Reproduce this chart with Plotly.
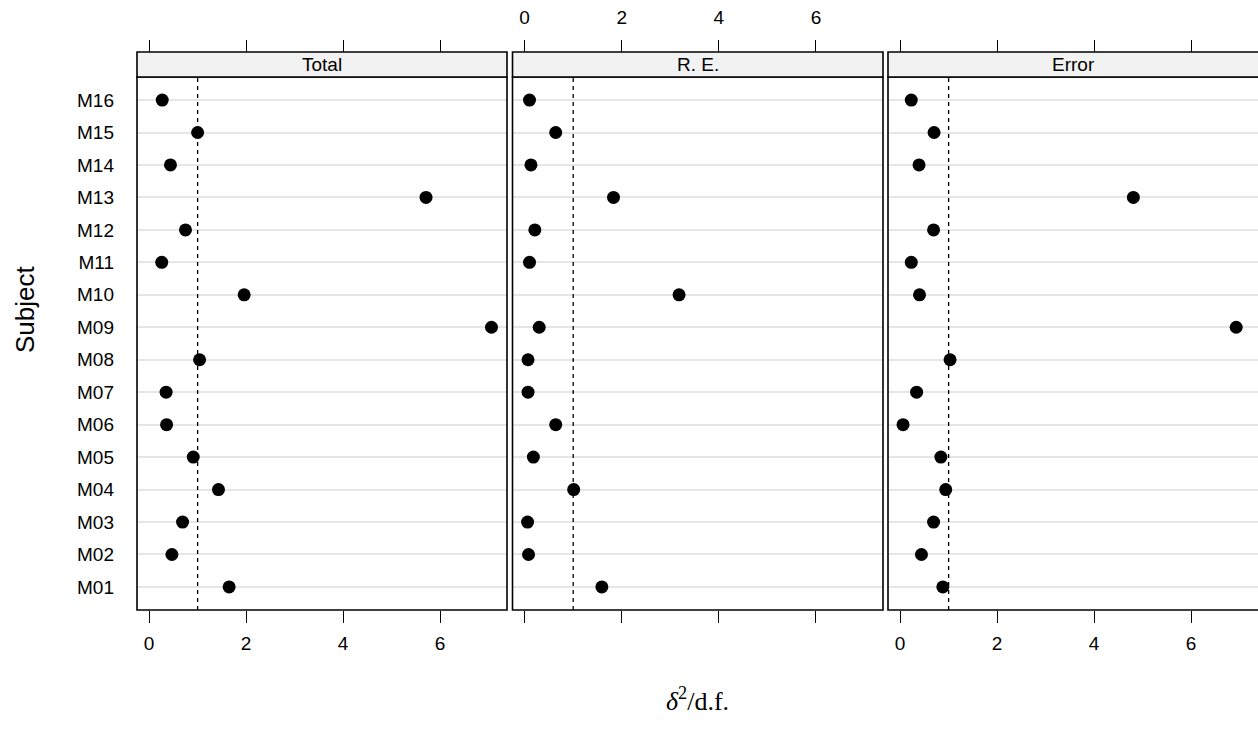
import plotly.graph_objects as go

subjects = ["M01", "M02", "M03", "M04", "M05", "M06", "M07", "M08",
            "M09", "M10", "M11", "M12", "M13", "M14", "M15", "M16"]
total = [1.65, 0.47, 0.69, 1.43, 0.91, 0.36, 0.35, 1.04,
         7.06, 1.96, 0.26, 0.75, 5.71, 0.44, 1.00, 0.27]
re_vals = [1.59, 0.08, 0.06, 1.01, 0.18, 0.64, 0.07, 0.07,
           0.30, 3.18, 0.10, 0.21, 1.83, 0.13, 0.64, 0.10]
error = [0.88, 0.44, 0.69, 0.94, 0.84, 0.06, 0.34, 1.03,
         6.93, 0.40, 0.23, 0.69, 4.81, 0.39, 0.70, 0.23]
panels = ["Total", "R. E.", "Error"]
ticks = [0, 2, 4, 6]
ref_value = 1

W, H = 1258, 742
FONT = "Liberation Sans, Arial, Helvetica, sans-serif"
FS = 19

# panel geometry (pixels)
px_x = [(137, 507), (512.5, 883), (888, 1258)]
py_top, py_bot = 77, 610
strip_top = 52
xr = [-0.25, 7.38]

fig = go.Figure()
series = [total, re_vals, error]
ydom = [1 - py_bot / H, 1 - py_top / H]
strip_y = [1 - py_top / H, 1 - strip_top / H]

for i, (vals, name) in enumerate(zip(series, panels)):
    n = "" if i == 0 else str(i + 1)
    fig.add_trace(go.Scatter(
        x=vals, y=subjects, mode="markers",
        marker=dict(color="black", size=13, line=dict(width=0)),
        xaxis="x" + n, yaxis="y" + n, showlegend=False,
        hoverinfo="x+y"))
    dom = [px_x[i][0] / W, min(px_x[i][1] / W, 1.0)]
    fig.layout["xaxis" + n] = dict(
        domain=dom, range=xr, anchor="y" + n,
        tickvals=ticks, ticktext=[str(t) for t in ticks],
        ticks="outside", ticklen=12, tickwidth=1.2, tickcolor="black",
        showticklabels=(i != 1), showgrid=False, zeroline=False,
        showline=False, tickfont=dict(family=FONT, size=FS, color="black"),
        ticklabelstandoff=4)
    fig.layout["yaxis" + n] = dict(
        domain=ydom, anchor="x" + n, type="category",
        categoryorder="array", categoryarray=subjects,
        range=[-0.71, 15.71], showgrid=True, gridcolor="#e6e6e6",
        gridwidth=2, zeroline=False, showline=False, ticks="",
        showticklabels=(i == 0), ticklabelstandoff=22,
        tickfont=dict(family=FONT, size=FS, color="black"))
    # top axis (above strip)
    fig.layout["xaxis" + str(i + 4)] = dict(
        overlaying="x" + n, side="top", anchor="free",
        position=strip_y[1], range=xr, tickvals=ticks,
        ticktext=[str(t) for t in ticks],
        ticks="outside", ticklen=12, tickwidth=1.2, tickcolor="black",
        showticklabels=(i == 1), showgrid=False, zeroline=False,
        showline=False, tickfont=dict(family=FONT, size=FS, color="black"),
        ticklabelstandoff=8)
    fig.add_trace(go.Scatter(x=[None], y=[None], xaxis="x" + str(i + 4),
                             yaxis="y" + n, showlegend=False,
                             hoverinfo="skip", mode="markers"))
    # reference dashed line
    fig.add_shape(type="line", xref="x" + n, yref="y" + n + " domain",
                  x0=ref_value, x1=ref_value, y0=0, y1=1,
                  line=dict(color="black", width=1.3, dash="4px,4px"),
                  layer="above")
    x1p = px_x[i][1] / W if i < 2 else 1.01
    # panel frame
    fig.add_shape(type="rect", xref="paper", yref="paper",
                  x0=dom[0], x1=x1p, y0=ydom[0], y1=ydom[1],
                  line=dict(color="black", width=1.6), layer="above")
    # strip
    fig.add_shape(type="rect", xref="paper", yref="paper",
                  x0=dom[0], x1=x1p, y0=strip_y[0], y1=strip_y[1],
                  fillcolor="#f2f2f2",
                  line=dict(color="black", width=1.6), layer="above")
    fig.add_annotation(x=(px_x[i][0] + px_x[i][1]) / 2 / W,
                       y=(strip_y[0] + strip_y[1]) / 2,
                       xref="paper", yref="paper", text=name,
                       showarrow=False, xanchor="center", yanchor="middle",
                       font=dict(family=FONT, size=FS, color="black"))

fig.add_annotation(x=25 / W, y=1 - 310 / H, xref="paper", yref="paper",
                   text="Subject", textangle=-90, showarrow=False,
                   xanchor="center", yanchor="middle",
                   font=dict(family=FONT, size=26, color="black"))
fig.add_annotation(x=697 / W, y=1 - 699 / H, xref="paper", yref="paper",
                   text="<i>δ</i><sup>2</sup>/d.f.", showarrow=False,
                   xanchor="center", yanchor="middle",
                   font=dict(family="Liberation Serif, DejaVu Serif, serif",
                             size=26, color="black"))

fig.update_layout(width=W, height=H, margin=dict(l=0, r=0, t=0, b=0),
                  plot_bgcolor="white", paper_bgcolor="white")
fig.write_html("out.html")
